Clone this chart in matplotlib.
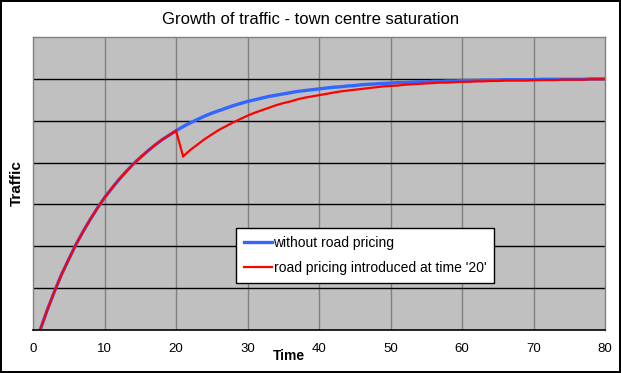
import matplotlib
matplotlib.use("Agg")
import matplotlib.pyplot as plt
import numpy as np

plt.rcParams['font.family'] = ['Liberation Sans', 'DejaVu Sans']

# time steps 1..80
time = list(range(1, 81))

# traffic without road pricing
no_pricing = [0.00, 0.48, 0.92, 1.33, 1.69, 2.04, 2.35, 2.64, 2.91, 3.16,
              3.38, 3.59, 3.78, 3.96, 4.12, 4.27, 4.41, 4.54, 4.65, 4.76,
              4.86, 4.95, 5.03, 5.11, 5.18, 5.24, 5.30, 5.36, 5.41, 5.46,
              5.50, 5.54, 5.58, 5.61, 5.64, 5.67, 5.70, 5.72, 5.74, 5.76,
              5.78, 5.80, 5.81, 5.83, 5.84, 5.86, 5.87, 5.88, 5.89, 5.90,
              5.91, 5.91, 5.92, 5.93, 5.93, 5.94, 5.94, 5.95, 5.95, 5.96,
              5.96, 5.96, 5.97, 5.97, 5.97, 5.98, 5.98, 5.98, 5.98, 5.98,
              5.99, 5.99, 5.99, 5.99, 5.99, 5.99, 5.99, 6.00, 6.00, 6.00]

# traffic with road pricing introduced at time 20
with_pricing = [0.00, 0.48, 0.92, 1.33, 1.69, 2.04, 2.35, 2.64, 2.91, 3.16,
                3.38, 3.59, 3.78, 3.96, 4.12, 4.27, 4.41, 4.54, 4.65, 4.76,
                4.15, 4.30, 4.43, 4.56, 4.67, 4.78, 4.87, 4.96, 5.04, 5.12,
                5.19, 5.25, 5.31, 5.37, 5.42, 5.46, 5.51, 5.55, 5.58, 5.61,
                5.64, 5.67, 5.70, 5.72, 5.74, 5.76, 5.78, 5.80, 5.82, 5.83,
                5.84, 5.86, 5.87, 5.88, 5.89, 5.90, 5.91, 5.91, 5.92, 5.93,
                5.93, 5.94, 5.94, 5.95, 5.95, 5.96, 5.96, 5.96, 5.96, 5.97,
                5.97, 5.97, 5.97, 5.98, 5.98, 5.98, 5.98, 5.99, 5.99, 5.99]

labels = ['without road pricing', "road pricing introduced at time '20'"]

fig = plt.figure(figsize=(6.21, 3.73), dpi=100)
fig.patch.set_facecolor('white')
fig.patch.set_edgecolor('black')
fig.patch.set_linewidth(1.5)
ax = fig.add_axes([33/621, 1-330/373, 572/621, 293/373])
ax.set_facecolor('#C0C0C0')

ax.plot(time, no_pricing, color='#3366FF', lw=2.4, label=labels[0], solid_joinstyle='miter')
ax.plot(time, with_pricing, color='#FF0000', lw=1.6, label=labels[1], solid_joinstyle='miter')

ax.set_xlim(0, 80)
ax.set_ylim(0, 7)
ax.set_xticks(np.arange(0, 81, 10))
ax.set_yticks(np.arange(0, 8, 1))
ax.set_yticklabels([])
ax.tick_params(axis='both', length=0)
ax.tick_params(axis='x', pad=9, labelsize=9.5)

for v in range(10, 80, 10):
    ax.axvline(v, color='#808080', lw=1, zorder=0.5)
for v in range(1, 7):
    ax.axhline(v, color='black', lw=1, zorder=0.6)

for s in ['top', 'left', 'right']:
    ax.spines[s].set_color('#808080')
    ax.spines[s].set_linewidth(1)
ax.spines['bottom'].set_color('black')
ax.spines['bottom'].set_linewidth(1.2)

fig.text(0.5, 1-20/373, 'Growth of traffic - town centre saturation',
         ha='center', va='center', fontsize=12)
ax.set_ylabel('Traffic', fontsize=11, fontweight='bold')
ax.yaxis.set_label_coords(-0.016, 0.5)
ax.set_xlabel('Time', fontsize=10, fontweight='bold')
ax.xaxis.set_label_coords((289-33)/572, -0.065)

leg = ax.legend(loc='upper left', bbox_to_anchor=(236/621, 1-228/373),
                bbox_transform=fig.transFigure, fontsize=10, frameon=True,
                fancybox=False, framealpha=1, edgecolor='black',
                handlelength=2.0, handletextpad=0.1, labelspacing=0.75,
                borderpad=0.6, borderaxespad=0)
leg.get_frame().set_linewidth(1)
for line in leg.get_lines():
    line.set_linewidth(2.4 if line.get_color() == '#3366FF' else 1.6)

fig.savefig('out.png', dpi=100, edgecolor=fig.get_edgecolor())
